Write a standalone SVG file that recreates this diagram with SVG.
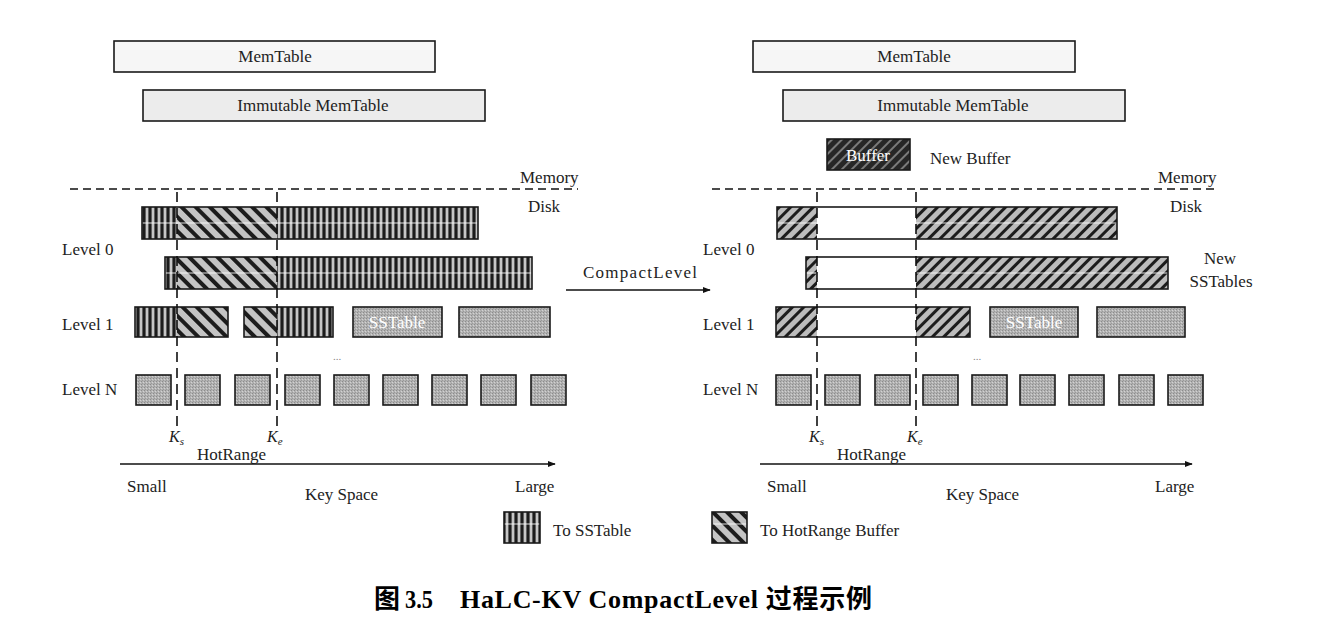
<svg xmlns="http://www.w3.org/2000/svg" width="1339" height="639" viewBox="0 0 1339 639">
<style>
.t{font-family:"Liberation Serif","Times New Roman",serif;font-size:17px;fill:#222}
.ti{font-family:"Liberation Serif","Times New Roman",serif;font-size:16px;fill:#222;font-style:italic}
.wt{font-family:"Liberation Serif","Times New Roman",serif;font-size:17px;fill:#fff}
.ol{fill:none;stroke:#1a1a1a;stroke-width:1.6}
.box{stroke:#1a1a1a;stroke-width:1.6}
.mid{stroke:#fff;stroke-width:1.2;opacity:0.85}
.dash{stroke:#111;stroke-width:1.5;stroke-dasharray:8 5;fill:none}
.vd{stroke:#111;stroke-width:1.6;stroke-dasharray:10 6;fill:none}
.ax{stroke:#111;stroke-width:1.5;fill:none}
.cap{font-family:"Liberation Serif","Noto Sans CJK SC",serif;font-size:26px;font-weight:bold;fill:#000}
</style>
<defs>
<pattern id="pv" width="6" height="8" patternUnits="userSpaceOnUse"><rect width="6" height="8" fill="#1c1c1c"/><rect x="1.6" width="2.8" height="8" fill="#c6c6c6"/></pattern>
<pattern id="pd" width="10" height="10" patternUnits="userSpaceOnUse" patternTransform="rotate(-45)"><rect width="10" height="10" fill="#c4c4c4"/><rect width="4" height="10" fill="#1c1c1c"/></pattern>
<pattern id="pf" width="8" height="8" patternUnits="userSpaceOnUse" patternTransform="rotate(45)"><rect width="8" height="8" fill="#bcbcbc"/><rect width="3" height="8" fill="#1c1c1c"/></pattern>
<pattern id="pb" width="7" height="7" patternUnits="userSpaceOnUse" patternTransform="rotate(45)"><rect width="7" height="7" fill="#262626"/><rect width="2" height="7" fill="#7a7a7a"/></pattern>
<pattern id="pg" width="3" height="3" patternUnits="userSpaceOnUse"><rect width="3" height="3" fill="#b2b2b2"/><rect width="1" height="1" fill="#8c8c8c"/><rect x="2" y="1" width="1" height="1" fill="#d2d2d2"/><rect x="1" y="2" width="1" height="1" fill="#9a9a9a"/></pattern>
<marker id="ah" viewBox="0 0 10 10" refX="9" refY="5" markerWidth="8" markerHeight="8" markerUnits="userSpaceOnUse" orient="auto"><path d="M0,1 L10,5 L0,9 Z" fill="#111"/></marker>
</defs>
<rect width="1339" height="639" fill="#fff"/>

<!-- LEFT -->
<g id="left-memtable"><rect x="114" y="41" width="321" height="31" fill="#f6f6f6" class="box"/><text class="t" x="275" y="62" text-anchor="middle">MemTable</text></g>
<g id="left-immutable"><rect x="143" y="90" width="342" height="31" fill="#ececec" class="box"/><text class="t" x="313" y="111" text-anchor="middle">Immutable MemTable</text></g>
<g id="left-labels">
<text class="t" x="520" y="183">Memory</text>
<text class="t" x="528" y="212">Disk</text>
<text class="t" x="62" y="255">Level 0</text>
<text class="t" x="62" y="330">Level 1</text>
<text class="t" x="62" y="395">Level N</text>
<text class="t" x="333" y="360" style="font-size:11px;fill:#888">...</text>
<text class="ti" x="169" y="442">K<tspan font-size="11" dy="3">s</tspan></text>
<text class="ti" x="267" y="442">K<tspan font-size="11" dy="3">e</tspan></text>
<text class="t" x="197" y="460">HotRange</text>
<text class="t" x="127" y="492">Small</text>
<text class="t" x="305" y="500">Key Space</text>
<text class="t" x="515" y="492">Large</text>
</g>
<g id="left-l0-a"><rect x="142" y="207" width="35" height="32" fill="url(#pv)"/><rect x="177" y="207" width="100" height="32" fill="url(#pd)"/><rect x="277" y="207" width="201" height="32" fill="url(#pv)"/><line class="mid" x1="142" y1="223" x2="478" y2="223"/><rect class="ol" x="142" y="207" width="336" height="32"/></g>
<g id="left-l0-b"><rect x="165" y="257" width="12" height="32" fill="url(#pv)"/><rect x="177" y="257" width="100" height="32" fill="url(#pd)"/><rect x="277" y="257" width="255" height="32" fill="url(#pv)"/><line class="mid" x1="165" y1="273" x2="532" y2="273"/><rect class="ol" x="165" y="257" width="367" height="32"/></g>
<g id="left-l1-a"><rect x="135" y="307" width="42" height="30" fill="url(#pv)"/><rect x="177" y="307" width="51" height="30" fill="url(#pd)"/><rect class="ol" x="135" y="307" width="93" height="30"/></g>
<g id="left-l1-b"><rect x="244" y="307" width="33" height="30" fill="url(#pd)"/><rect x="277" y="307" width="56" height="30" fill="url(#pv)"/><rect class="ol" x="244" y="307" width="89" height="30"/></g>
<g id="left-l1-c"><rect x="353" y="307" width="89" height="30" fill="url(#pg)" class="box"/><text class="wt" x="397" y="328" text-anchor="middle">SSTable</text></g>
<g id="left-l1-d"><rect x="459" y="307" width="91" height="30" fill="url(#pg)" class="box"/></g>
<g id="left-ln">
<rect x="136" y="375" width="35" height="30" fill="url(#pg)" class="box"/>
<rect x="185" y="375" width="35" height="30" fill="url(#pg)" class="box"/>
<rect x="235" y="375" width="35" height="30" fill="url(#pg)" class="box"/>
<rect x="285" y="375" width="35" height="30" fill="url(#pg)" class="box"/>
<rect x="334" y="375" width="35" height="30" fill="url(#pg)" class="box"/>
<rect x="383" y="375" width="35" height="30" fill="url(#pg)" class="box"/>
<rect x="432" y="375" width="35" height="30" fill="url(#pg)" class="box"/>
<rect x="481" y="375" width="35" height="30" fill="url(#pg)" class="box"/>
<rect x="531" y="375" width="35" height="30" fill="url(#pg)" class="box"/>
</g>

<!-- RIGHT -->
<g id="right-memtable"><rect x="753" y="41" width="322" height="31" fill="#f6f6f6" class="box"/><text class="t" x="914" y="62" text-anchor="middle">MemTable</text></g>
<g id="right-immutable"><rect x="783" y="90" width="342" height="31" fill="#ececec" class="box"/><text class="t" x="953" y="111" text-anchor="middle">Immutable MemTable</text></g>
<g id="right-buffer"><rect x="827" y="139" width="83" height="31" fill="url(#pb)" class="box"/><text class="wt" x="868" y="161" text-anchor="middle">Buffer</text><text class="t" x="930" y="164">New Buffer</text></g>
<g id="right-labels">
<text class="t" x="1158" y="183">Memory</text>
<text class="t" x="1170" y="212">Disk</text>
<text class="t" x="703" y="255">Level 0</text>
<text class="t" x="703" y="330">Level 1</text>
<text class="t" x="703" y="395">Level N</text>
<text class="t" x="1220" y="264" text-anchor="middle">New</text>
<text class="t" x="1221" y="287" text-anchor="middle">SSTables</text>
<text class="t" x="973" y="360" style="font-size:11px;fill:#888">...</text>
<text class="ti" x="809" y="442">K<tspan font-size="11" dy="3">s</tspan></text>
<text class="ti" x="907" y="442">K<tspan font-size="11" dy="3">e</tspan></text>
<text class="t" x="837" y="460">HotRange</text>
<text class="t" x="767" y="492">Small</text>
<text class="t" x="946" y="500">Key Space</text>
<text class="t" x="1155" y="492">Large</text>
</g>
<g id="right-l0-a"><rect x="777" y="207" width="40" height="32" fill="url(#pf)"/><rect x="817" y="207" width="99" height="32" fill="#fff"/><rect x="916" y="207" width="201" height="32" fill="url(#pf)"/><line class="mid" x1="777" y1="223" x2="817" y2="223"/><line class="mid" x1="916" y1="223" x2="1117" y2="223"/><rect class="ol" x="777" y="207" width="340" height="32"/></g>
<g id="right-l0-b"><rect x="806" y="257" width="11" height="32" fill="url(#pf)"/><rect x="817" y="257" width="99" height="32" fill="#fff"/><rect x="916" y="257" width="252" height="32" fill="url(#pf)"/><line class="mid" x1="806" y1="273" x2="817" y2="273"/><line class="mid" x1="916" y1="273" x2="1168" y2="273"/><rect class="ol" x="806" y="257" width="362" height="32"/></g>
<g id="right-l1-a"><rect x="776" y="307" width="41" height="30" fill="url(#pf)"/><rect x="817" y="307" width="99" height="30" fill="#fff"/><rect x="916" y="307" width="54" height="30" fill="url(#pf)"/><rect class="ol" x="776" y="307" width="194" height="30"/></g>
<g id="right-l1-c"><rect x="990" y="307" width="88" height="30" fill="url(#pg)" class="box"/><text class="wt" x="1034" y="328" text-anchor="middle">SSTable</text></g>
<g id="right-l1-d"><rect x="1097" y="307" width="88" height="30" fill="url(#pg)" class="box"/></g>
<g id="right-ln">
<rect x="776" y="375" width="35" height="30" fill="url(#pg)" class="box"/>
<rect x="825" y="375" width="35" height="30" fill="url(#pg)" class="box"/>
<rect x="875" y="375" width="35" height="30" fill="url(#pg)" class="box"/>
<rect x="923" y="375" width="35" height="30" fill="url(#pg)" class="box"/>
<rect x="972" y="375" width="35" height="30" fill="url(#pg)" class="box"/>
<rect x="1020" y="375" width="35" height="30" fill="url(#pg)" class="box"/>
<rect x="1069" y="375" width="35" height="30" fill="url(#pg)" class="box"/>
<rect x="1119" y="375" width="35" height="30" fill="url(#pg)" class="box"/>
<rect x="1168" y="375" width="35" height="30" fill="url(#pg)" class="box"/>
</g>

<!-- connectors / lines -->
<g id="connectors">
<line class="dash" x1="70" y1="189" x2="578" y2="189"/>
<line class="dash" x1="712" y1="189" x2="1216" y2="189"/>
<line class="vd" x1="177" y1="192" x2="177" y2="426"/>
<line class="vd" x1="277" y1="192" x2="277" y2="426"/>
<line class="vd" x1="817" y1="192" x2="817" y2="426"/>
<line class="vd" x1="916" y1="192" x2="916" y2="426"/>
<line class="ax" x1="120" y1="464" x2="555" y2="464" marker-end="url(#ah)"/>
<line class="ax" x1="760" y1="464" x2="1192" y2="464" marker-end="url(#ah)"/>
<line class="ax" x1="566" y1="290" x2="710" y2="290" marker-end="url(#ah)"/>
<text class="t" x="583" y="278" textLength="114" lengthAdjust="spacing">CompactLevel</text>
</g>

<!-- legend -->
<g id="legend-sstable"><rect x="504" y="512" width="36" height="31" fill="url(#pv)"/><line class="mid" x1="504" y1="524" x2="540" y2="524"/><rect class="ol" x="504" y="512" width="36" height="31"/><text class="t" x="553" y="536">To SSTable</text></g>
<g id="legend-hotrange"><rect x="712" y="512" width="35" height="31" fill="url(#pd)"/><line class="mid" x1="712" y1="524" x2="747" y2="524"/><rect class="ol" x="712" y="512" width="35" height="31"/><text class="t" x="760" y="536">To HotRange Buffer</text></g>

<g id="caption"><text class="cap" x="374" y="608">图</text><text class="cap" x="405" y="608" textLength="28" lengthAdjust="spacingAndGlyphs">3.5</text><text class="cap" x="460" y="608" textLength="412" lengthAdjust="spacing">HaLC-KV CompactLevel 过程示例</text></g>
</svg>
